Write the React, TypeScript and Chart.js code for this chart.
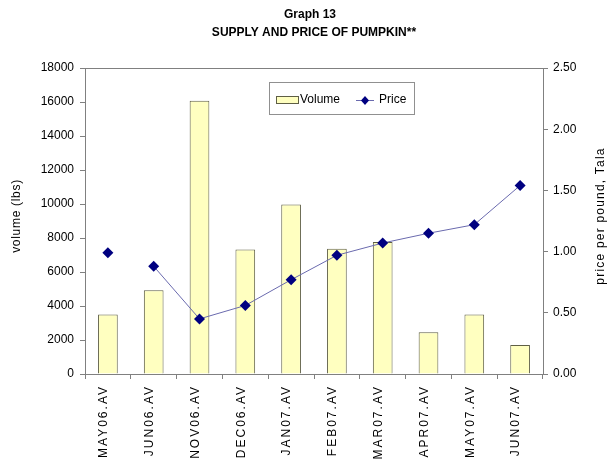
import React, { useEffect, useRef } from "react";
import { Chart, registerables } from "chart.js";

Chart.register(...registerables);

const categories = [
  "MAY06.AV",
  "JUN06.AV",
  "NOV06.AV",
  "DEC06.AV",
  "JAN07.AV",
  "FEB07.AV",
  "MAR07.AV",
  "APR07.AV",
  "MAY07.AV",
  "JUN07.AV",
];
const volume = [3500, 4920, 16080, 7330, 9970, 7370, 7770, 2460, 3500, 1700];
const price = [0.99, 0.88, 0.45, 0.56, 0.77, 0.97, 1.07, 1.15, 1.22, 1.54];

const titleLines = ["Graph 13", "SUPPLY AND PRICE OF PUMPKIN**"];
const leftTitle = "volume (lbs)";
const rightTitle = "price per pound, Tala";
const legendLabels = ["Volume", "Price"];

const FONT = "'Liberation Sans', Arial, sans-serif";
const BAR_FILL = "#FFFFC0";
const BAR_EDGE = "#5f5f45";
const LINE_COLOR = "#6a6aae";
const MARKER = "#000080";
const AXIS = "#808080";

const decorPlugin = {
  id: "decor",
  afterDraw(chart: any) {
    const ctx = chart.ctx as CanvasRenderingContext2D;
    const area = chart.chartArea;
    const xScale = chart.scales.x;

    // top frame line
    ctx.save();
    ctx.strokeStyle = AXIS;
    ctx.lineWidth = 1;
    ctx.beginPath();
    ctx.moveTo(area.left, Math.round(area.top) + 0.5);
    ctx.lineTo(area.right, Math.round(area.top) + 0.5);
    ctx.stroke();
    ctx.restore();

    // titles
    ctx.save();
    ctx.fillStyle = "#000";
    ctx.textAlign = "center";
    ctx.textBaseline = "middle";
    ctx.font = `bold 12px ${FONT}`;
    ctx.fillText(titleLines[0], 310, 15);
    ctx.fillText(titleLines[1], 314, 33);
    ctx.restore();

    // axis titles
    ctx.save();
    ctx.fillStyle = "#000";
    ctx.font = `12px ${FONT}`;
    ctx.textAlign = "center";
    ctx.textBaseline = "middle";
    (ctx as any).letterSpacing = "0.7px";
    ctx.translate(17, 216);
    ctx.rotate(-Math.PI / 2);
    ctx.fillText(leftTitle, 0, 0);
    ctx.restore();

    ctx.save();
    ctx.fillStyle = "#000";
    ctx.font = `12px ${FONT}`;
    ctx.textAlign = "center";
    ctx.textBaseline = "middle";
    (ctx as any).letterSpacing = "1.2px";
    ctx.translate(601, 216);
    ctx.rotate(-Math.PI / 2);
    ctx.fillText(rightTitle, 0, 0);
    ctx.restore();

    // x tick labels
    categories.forEach((lab, i) => {
      const x = xScale.getPixelForTick(i) - 4;
      ctx.save();
      ctx.fillStyle = "#000";
      ctx.font = `12px ${FONT}`;
      (ctx as any).letterSpacing = "2px";
      ctx.textAlign = "right";
      ctx.textBaseline = "middle";
      ctx.translate(x, area.bottom + 11);
      ctx.rotate(-Math.PI / 2);
      ctx.fillText(lab, 0, 0);
      ctx.restore();
    });

    // legend
    ctx.save();
    ctx.fillStyle = "#fff";
    ctx.strokeStyle = "#909090";
    ctx.lineWidth = 1;
    ctx.fillRect(269.5, 82.5, 145, 32);
    ctx.strokeRect(269.5, 82.5, 145, 32);
    ctx.fillStyle = BAR_FILL;
    ctx.strokeStyle = BAR_EDGE;
    ctx.fillRect(276.5, 96.5, 22, 7);
    ctx.strokeRect(276.5, 96.5, 22, 7);
    ctx.fillStyle = "#000";
    ctx.font = `12px ${FONT}`;
    ctx.textAlign = "left";
    ctx.textBaseline = "middle";
    ctx.fillText(legendLabels[0], 300, 100);
    ctx.strokeStyle = LINE_COLOR;
    ctx.beginPath();
    ctx.moveTo(356, 100.5);
    ctx.lineTo(374, 100.5);
    ctx.stroke();
    ctx.fillStyle = MARKER;
    ctx.beginPath();
    ctx.moveTo(365, 96);
    ctx.lineTo(369, 100.5);
    ctx.lineTo(365, 105);
    ctx.lineTo(361, 100.5);
    ctx.closePath();
    ctx.fill();
    ctx.fillStyle = "#000";
    ctx.fillText(legendLabels[1], 379, 100);
    ctx.restore();
  },
};

export default function App() {
  const ref = useRef<HTMLCanvasElement | null>(null);

  useEffect(() => {
    if (!ref.current) return;
    const chart = new Chart(ref.current, {
      data: {
        labels: categories,
        datasets: [
          {
            type: "line",
            label: legendLabels[1],
            data: price,
            yAxisID: "y1",
            order: 0,
            borderColor: LINE_COLOR,
            borderWidth: 1,
            pointStyle: "rectRot",
            pointRadius: 5.5,
            pointBackgroundColor: MARKER,
            pointBorderColor: MARKER,
            pointBorderWidth: 0,
            tension: 0,
            segment: {
              borderColor: (c: any) =>
                c.p0DataIndex === 0 ? "rgba(0,0,0,0)" : LINE_COLOR,
            },
          } as any,
          {
            type: "bar",
            label: legendLabels[0],
            data: volume,
            yAxisID: "y",
            order: 1,
            backgroundColor: BAR_FILL,
            borderColor: BAR_EDGE,
            borderWidth: 1,
            barPercentage: 0.43,
            categoryPercentage: 1,
          },
        ],
      },
      options: {
        animation: false,
        responsive: false,
        devicePixelRatio: 1,
        layout: { padding: { top: 68, left: 0, right: 0, bottom: 0 } },
        plugins: {
          legend: { display: false },
          title: { display: false },
          tooltip: { enabled: false },
        },
        scales: {
          x: {
            type: "category",
            offset: true,
            grid: {
              display: true,
              offset: true,
              drawOnChartArea: false,
              drawTicks: true,
              tickLength: 5,
              color: AXIS,
            },
            border: { display: true, color: AXIS },
            ticks: { display: false },
            afterFit: (s: any) => {
              s.height = 87;
            },
          },
          y: {
            position: "left",
            min: 0,
            max: 18000,
            ticks: {
              stepSize: 2000,
              padding: 6,
              color: "#000",
              font: { family: FONT, size: 12 },
              callback: (v: any) => String(v),
            },
            grid: {
              display: true,
              drawOnChartArea: false,
              drawTicks: true,
              tickLength: 5,
              color: AXIS,
            },
            border: { display: true, color: AXIS },
            afterFit: (s: any) => {
              s.width = 85;
            },
          },
          y1: {
            position: "right",
            min: 0,
            max: 2.5,
            ticks: {
              stepSize: 0.5,
              padding: 5,
              color: "#000",
              font: { family: FONT, size: 12 },
              callback: (v: any) => Number(v).toFixed(2),
            },
            grid: {
              display: true,
              drawOnChartArea: false,
              drawTicks: true,
              tickLength: 5,
              color: AXIS,
            },
            border: { display: true, color: AXIS },
            afterFit: (s: any) => {
              s.width = 65;
            },
          },
        },
      } as any,
      plugins: [decorPlugin],
    });
    return () => chart.destroy();
  }, []);

  return (
    <div
      style={{
        position: "fixed",
        left: 0,
        top: 0,
        width: 608,
        height: 461,
        background: "#fff",
        overflow: "hidden",
      }}
    >
      <canvas ref={ref} width={608} height={461} style={{ display: "block" }} />
    </div>
  );
}
